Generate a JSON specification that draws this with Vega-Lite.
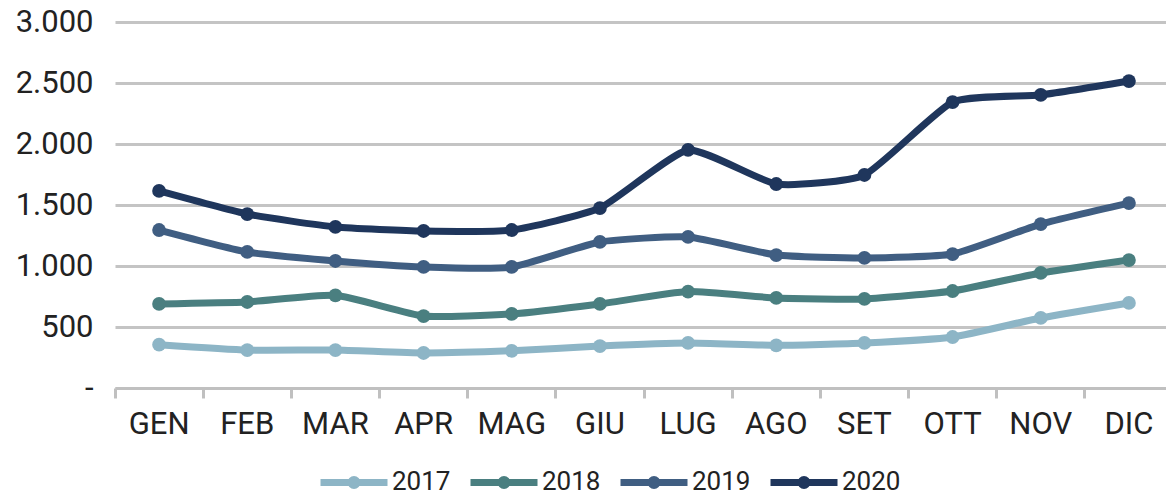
{
  "$schema": "https://vega.github.io/schema/vega-lite/v6.json",
  "width": 1051,
  "height": 366,
  "autosize": {"type": "none"},
  "padding": {"left": 115, "top": 22, "right": 0, "bottom": 104},
  "config": {"view": {"stroke": null}, "font": "Roboto"},
  "data": {
    "values": [
      {"mese": "GEN", "anno": "2017", "valore": 355},
      {"mese": "FEB", "anno": "2017", "valore": 311},
      {"mese": "MAR", "anno": "2017", "valore": 311},
      {"mese": "APR", "anno": "2017", "valore": 287},
      {"mese": "MAG", "anno": "2017", "valore": 305},
      {"mese": "GIU", "anno": "2017", "valore": 344},
      {"mese": "LUG", "anno": "2017", "valore": 369},
      {"mese": "AGO", "anno": "2017", "valore": 350},
      {"mese": "SET", "anno": "2017", "valore": 369},
      {"mese": "OTT", "anno": "2017", "valore": 418},
      {"mese": "NOV", "anno": "2017", "valore": 574},
      {"mese": "DIC", "anno": "2017", "valore": 697},
      {"mese": "GEN", "anno": "2018", "valore": 689},
      {"mese": "FEB", "anno": "2018", "valore": 705},
      {"mese": "MAR", "anno": "2018", "valore": 760},
      {"mese": "APR", "anno": "2018", "valore": 590},
      {"mese": "MAG", "anno": "2018", "valore": 607},
      {"mese": "GIU", "anno": "2018", "valore": 689},
      {"mese": "LUG", "anno": "2018", "valore": 790},
      {"mese": "AGO", "anno": "2018", "valore": 738},
      {"mese": "SET", "anno": "2018", "valore": 730},
      {"mese": "OTT", "anno": "2018", "valore": 795},
      {"mese": "NOV", "anno": "2018", "valore": 943},
      {"mese": "DIC", "anno": "2018", "valore": 1049},
      {"mese": "GEN", "anno": "2019", "valore": 1295},
      {"mese": "FEB", "anno": "2019", "valore": 1115},
      {"mese": "MAR", "anno": "2019", "valore": 1041},
      {"mese": "APR", "anno": "2019", "valore": 992},
      {"mese": "MAG", "anno": "2019", "valore": 992},
      {"mese": "GIU", "anno": "2019", "valore": 1197},
      {"mese": "LUG", "anno": "2019", "valore": 1238},
      {"mese": "AGO", "anno": "2019", "valore": 1090},
      {"mese": "SET", "anno": "2019", "valore": 1066},
      {"mese": "OTT", "anno": "2019", "valore": 1098},
      {"mese": "NOV", "anno": "2019", "valore": 1344},
      {"mese": "DIC", "anno": "2019", "valore": 1516},
      {"mese": "GEN", "anno": "2020", "valore": 1615},
      {"mese": "FEB", "anno": "2020", "valore": 1426},
      {"mese": "MAR", "anno": "2020", "valore": 1320},
      {"mese": "APR", "anno": "2020", "valore": 1287},
      {"mese": "MAG", "anno": "2020", "valore": 1295},
      {"mese": "GIU", "anno": "2020", "valore": 1475},
      {"mese": "LUG", "anno": "2020", "valore": 1951},
      {"mese": "AGO", "anno": "2020", "valore": 1672},
      {"mese": "SET", "anno": "2020", "valore": 1746},
      {"mese": "OTT", "anno": "2020", "valore": 2344},
      {"mese": "NOV", "anno": "2020", "valore": 2402},
      {"mese": "DIC", "anno": "2020", "valore": 2516}
    ]
  },
  "mark": {
    "type": "line",
    "strokeWidth": 7,
    "interpolate": "cardinal",
    "tension": 0.5,
    "point": {"filled": true, "size": 190, "opacity": 1}
  },
  "encoding": {
    "x": {
      "field": "mese",
      "type": "nominal",
      "sort": ["GEN", "FEB", "MAR", "APR", "MAG", "GIU", "LUG", "AGO", "SET", "OTT", "NOV", "DIC"],
      "scale": {"type": "band", "range": [0, 1058], "paddingInner": 0, "paddingOuter": 0},
      "axis": {
        "title": null,
        "labelAngle": 0,
        "grid": false,
        "domainColor": "#C0C0C0",
        "domainWidth": 3,
        "tickColor": "#C0C0C0",
        "tickWidth": 3,
        "tickSize": 10,
        "bandPosition": 0,
        "labelFontSize": 31,
        "labelColor": "#222222",
        "labelPadding": 11
      }
    },
    "y": {
      "field": "valore",
      "type": "quantitative",
      "scale": {"domain": [0, 3000]},
      "axis": {
        "title": null,
        "values": [0, 500, 1000, 1500, 2000, 2500, 3000],
        "labelExpr": "datum.value == 0 ? '-\u00a0\u00a0' : replace(format(datum.value, ','), ',', '.')",
        "domain": false,
        "ticks": false,
        "gridColor": "#C4C4C4",
        "gridWidth": 3,
        "labelFontSize": 31,
        "labelColor": "#222222",
        "labelPadding": 22
      }
    },
    "color": {
      "field": "anno",
      "type": "nominal",
      "scale": {
        "domain": ["2017", "2018", "2019", "2020"],
        "range": ["#8DB5C6", "#4A7F80", "#405E82", "#1F365C"]
      },
      "legend": {
        "orient": "none",
        "legendX": 202,
        "legendY": 423,
        "direction": "horizontal",
        "title": null,
        "padding": 0,
        "symbolType": "M-1,0L1,0M-0.09,0A0.09,0.09 0 1,1 0.09,0A0.09,0.09 0 1,1 -0.09,0",
        "symbolSize": 4489,
        "symbolStrokeWidth": 7,
        "labelFontSize": 26,
        "labelColor": "#222222",
        "labelOffset": 1,
        "columnPadding": 5
      }
    }
  }
}
